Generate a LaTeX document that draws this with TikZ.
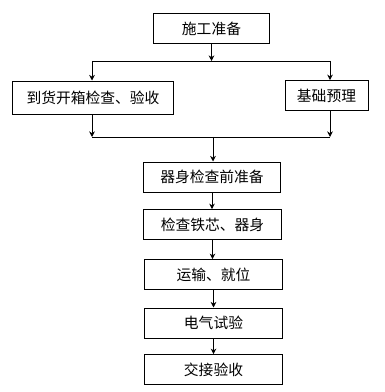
\documentclass[tikz,border=0pt]{standalone}
\usepackage{fontspec}
\newfontfamily\cjk{Noto Sans CJK SC}
\usetikzlibrary{arrows.meta}

\begin{document}
\begin{tikzpicture}[x=0.025cm, y=-0.025cm,
    font=\cjk\fontsize{10.5}{12}\selectfont,
    box/.style={draw, line width=0.7pt, inner sep=0pt, minimum height=0.74cm},
    arr/.style={-{Stealth[length=4pt,width=4pt]}, line width=0.6pt}]
            \useasboundingbox (0,0) rectangle (385,392);

            % Boxes
            \node[box, minimum width=2.875cm] (zb) at (211.5,28.5) {施工准备};
            \node[box, minimum width=4cm, minimum height=0.825cm] (dh) at (93,97.5) {到货开箱检查、验收};
            \node[box, minimum width=2.075cm] (jc) at (326.5,95.5) {基础预理};
            \node[box, minimum width=3.4cm, minimum height=0.75cm] (qs) at (212,177) {器身检查前准备};
            \node[box, minimum width=3.425cm] (tx) at (212.5,224.5) {检查铁芯、器身};
            \node[box, minimum width=3.425cm] (ys) at (213.5,274.5) {运输、就位};
            \node[box, minimum width=3.425cm, minimum height=0.75cm] (dq) at (213.5,323) {电气试验};
            \node[box, minimum width=3.425cm] (jj) at (213.5,369.5) {交接验收};

            % Split and join lines
            \coordinate (sL) at (92,61);
            \coordinate (sR) at (330,61);
            \coordinate (hL) at (92,137);
            \coordinate (hR) at (330,137);
            \coordinate (hM) at (213,137);

            \draw[arr] (zb) -- (zb |- sL);
            \draw[line width=0.6pt] (sL) -- (sR);
            \draw[arr] (sL) -- (sL |- dh.north);
            \draw[arr] (sR) -- (sR |- jc.north);
            \draw[arr] (hL |- dh.south) -- (hL);
            \draw[arr] (hR |- jc.south) -- (hR);
            \draw[line width=0.6pt] (hL) -- (hR);
            \draw[arr] (hM) -- (hM |- qs.north);

            % Main chain
            \foreach \a/\b in {qs/tx, tx/ys, ys/dq, dq/jj} {
                \draw[arr] (\a) -- (\a |- \b.north);
            }
\end{tikzpicture}
\end{document}
